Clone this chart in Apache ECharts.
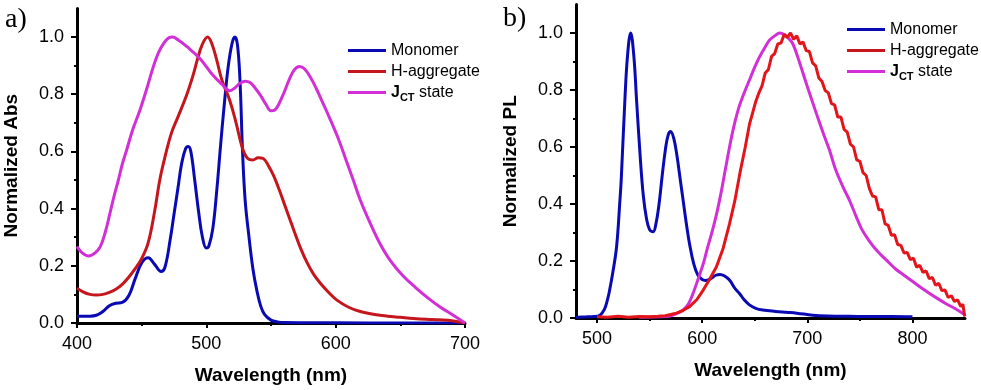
<!DOCTYPE html>
<html>
<head>
<meta charset="utf-8">
<script src="https://cdn.jsdelivr.net/npm/echarts@6/dist/echarts.min.js"></script>
<style>
html,body{margin:0;padding:0;background:#fff;}
#chart{width:981px;height:390px;}
</style>
</head>
<body>
<div id="chart"></div>
<script>
// ---------- DATA ----------
const seriesNames = ['Monomer', 'H-aggregate', 'JCT state'];

const absXTicks = [400, 500, 600, 700];
const absXMinorTicks = [450, 550, 650];
const plXTicks = [500, 600, 700, 800];
const plXMinorTicks = [550, 650, 750];
const yTicks = [0, 0.2, 0.4, 0.6, 0.8, 1.0];
const yMinorTicks = [0.1, 0.3, 0.5, 0.7, 0.9];

// a) absorption [wavelength nm, normalized abs]
const absMonomer = [[400,0.024],[405,0.024],[410,0.024],[415,0.027],[420,0.04],[425,0.06],[430,0.069],[435,0.072],[440,0.095],[445,0.155],[450,0.21],[455,0.228],[460,0.205],[465,0.18],[468,0.195],[472,0.29],[475,0.38],[478,0.47],[481,0.56],[484,0.61],[486,0.617],[488,0.6],[491,0.5],[494,0.39],[497,0.3],[500,0.262],[502,0.27],[505,0.33],[508,0.46],[511,0.62],[514,0.77],[517,0.9],[520,0.98],[522,1.0],[524,0.975],[526,0.85],[528,0.6],[530,0.43],[533,0.3],[536,0.19],[539,0.115],[542,0.06],[545,0.03],[550,0.01],[555,0.004],[560,0.002],[600,0.001],[650,0],[700,0]];
const absHagg = [[400,0.122],[405,0.108],[410,0.1],[415,0.098],[420,0.1],[425,0.107],[430,0.118],[435,0.135],[440,0.16],[445,0.19],[450,0.225],[455,0.28],[460,0.39],[464,0.5],[468,0.58],[473,0.664],[478,0.72],[485,0.8],[490,0.87],[493,0.92],[497,0.975],[501,1.0],[504,0.98],[508,0.92],[512,0.85],[518,0.78],[523,0.7],[528,0.61],[532,0.575],[536,0.57],[540,0.578],[544,0.575],[548,0.55],[552,0.515],[556,0.47],[560,0.42],[564,0.37],[568,0.32],[573,0.26],[578,0.21],[583,0.17],[588,0.14],[595,0.105],[601,0.08],[610,0.055],[619,0.04],[630,0.03],[640,0.024],[650,0.02],[660,0.016],[670,0.013],[680,0.011],[690,0.008],[700,0.0]];
const absJct = [[400,0.267],[404,0.245],[409,0.234],[414,0.245],[418,0.267],[422,0.32],[425.5,0.384],[429,0.45],[432,0.5],[435,0.555],[438.4,0.605],[443,0.675],[448.7,0.745],[454,0.82],[459,0.896],[463,0.945],[467,0.978],[471,0.997],[474,1.0],[478,0.99],[485,0.966],[495,0.925],[505,0.867],[512,0.835],[518,0.812],[522,0.822],[526,0.838],[530,0.845],[534,0.84],[538,0.82],[542,0.795],[546,0.765],[550,0.742],[553,0.745],[556,0.765],[560,0.805],[564,0.85],[568,0.885],[572,0.897],[576,0.888],[581,0.855],[585,0.82],[589,0.78],[595,0.72],[602,0.645],[608,0.57],[613.6,0.5],[619,0.43],[626.6,0.35],[634,0.28],[642,0.22],[652,0.165],[662,0.123],[672,0.085],[681,0.055],[690,0.03],[700,0.0]];

// b) photoluminescence [wavelength nm, normalized PL]
const plMonomer = [[480,0.003],[490,0.004],[497,0.005],[502.8,0.01],[507,0.03],[510,0.065],[512,0.098],[515,0.16],[518.6,0.25],[521.8,0.414],[523,0.484],[526.5,0.765],[529,0.92],[532,1.0],[535,0.92],[537.6,0.765],[541,0.57],[544,0.43],[547,0.35],[550,0.31],[553.4,0.303],[556,0.33],[559,0.4],[562,0.5],[565,0.59],[567.5,0.64],[570,0.654],[573,0.63],[576,0.57],[579,0.49],[582,0.41],[585,0.33],[588,0.26],[592,0.19],[596,0.15],[600,0.135],[603,0.132],[608,0.138],[613,0.15],[617,0.153],[621,0.148],[626,0.133],[631,0.105],[635.7,0.085],[640,0.064],[645,0.046],[651,0.034],[657.6,0.028],[670,0.023],[680,0.02],[690,0.017],[705,0.01],[720,0.007],[740,0.006],[760,0.005],[780,0.005],[800,0.004]];
const plHagg = [[500,0.004],[510,0.003],[520,0.006],[530,0.003],[540,0.005],[550,0.004],[558,0.006],[565,0.008],[570,0.012],[575.6,0.017],[582,0.027],[588,0.04],[595,0.065],[601,0.098],[607,0.135],[613.6,0.18],[620,0.245],[626,0.33],[631,0.41],[636,0.51],[641,0.6],[645,0.68],[648,0.72],[651,0.76],[654,0.79],[657,0.815],[660,0.86],[663,0.872],[666,0.918],[669,0.928],[672,0.962],[675,0.965],[678,0.995],[681,0.985],[684,1.0],[687,0.978],[690,0.99],[693,0.962],[696,0.968],[699,0.938],[702,0.935],[705,0.895],[708,0.885],[711,0.842],[714,0.83],[717,0.798],[720,0.79],[723,0.752],[726,0.748],[729,0.705],[732,0.705],[735,0.662],[738,0.652],[741,0.61],[744,0.6],[747,0.555],[750,0.55],[753,0.51],[756,0.5],[759,0.455],[762,0.428],[765,0.425],[768,0.38],[771,0.38],[774,0.33],[777,0.325],[780,0.29],[783,0.292],[786,0.258],[789,0.255],[792,0.228],[795,0.23],[798,0.205],[801,0.21],[804,0.178],[807,0.185],[810,0.16],[813,0.165],[816,0.138],[819,0.142],[822,0.115],[825,0.122],[828,0.096],[831,0.098],[834,0.072],[837,0.078],[840,0.058],[843,0.064],[846,0.04],[848,0.048],[849.5,0.01],[850,0.005]];
const plJct = [[540,0.003],[560,0.004],[569,0.006],[575,0.014],[582,0.028],[587,0.05],[591.4,0.087],[596,0.135],[601,0.19],[605,0.245],[610,0.31],[614,0.37],[618,0.44],[622,0.52],[626.3,0.605],[630,0.67],[635,0.74],[640,0.79],[645,0.835],[650,0.88],[654.7,0.917],[659,0.945],[664,0.975],[669,0.99],[673.7,1.0],[678,0.995],[682,0.982],[686,0.964],[691,0.915],[696,0.858],[702,0.79],[708.6,0.718],[715,0.65],[721,0.59],[727,0.52],[733.9,0.46],[740,0.414],[746.6,0.355],[752,0.31],[759,0.27],[767,0.233],[775,0.204],[784,0.172],[794,0.145],[805,0.115],[816,0.087],[824,0.068],[832,0.05],[840,0.034],[848,0.016],[850,0.01]];

// ---------- STYLE ----------
const C_BLUE = '#0a0ab4';
const C_RED = '#c4161c';
const C_RED_PL = '#e3141a';
const C_MAG = '#d22fd6';
const FONT = '"Liberation Sans", Arial, sans-serif';

const chart = echarts.init(document.getElementById('chart'), null, {renderer: 'canvas'});

function mainX(grid, min, max, ticks) {
  return {
    type: 'value', gridIndex: grid, min: min, max: max, position: 'bottom',
    axisLine: {show: true, onZero: false, lineStyle: {color: '#000', width: 3}},
    axisTick: {show: true, inside: false, length: 5, customValues: ticks, lineStyle: {color: '#000', width: 2}},
    axisLabel: {show: true, customValues: ticks, margin: 12, color: '#000', fontSize: 18, fontFamily: FONT},
    splitLine: {show: false},
    name: 'Wavelength (nm)', nameLocation: 'middle', nameGap: 43,
    nameTextStyle: {color: '#000', fontSize: 19, fontWeight: 'bold', fontFamily: FONT}
  };
}
function minorX(grid, min, max, ticks) {
  return {
    type: 'value', gridIndex: grid, min: min, max: max, position: 'bottom',
    axisLine: {show: false, onZero: false},
    axisTick: {show: true, inside: false, length: 3, customValues: ticks, lineStyle: {color: '#000', width: 2}},
    axisLabel: {show: false}, splitLine: {show: false}
  };
}
function mainY(grid, name) {
  return {
    type: 'value', gridIndex: grid, min: 0, max: 1.1, position: 'left',
    axisLine: {show: true, onZero: false, lineStyle: {color: '#000', width: 3}},
    axisTick: {show: true, inside: false, length: 6, customValues: yTicks, lineStyle: {color: '#000', width: 2}},
    axisLabel: {show: true, customValues: yTicks, margin: 13, color: '#000', fontSize: 18, fontFamily: FONT,
      formatter: v => v.toFixed(1)},
    splitLine: {show: false},
    name: name, nameLocation: 'middle', nameGap: 56,
    nameTextStyle: {color: '#000', fontSize: 19, fontWeight: 'bold', fontFamily: FONT}
  };
}
function minorY(grid) {
  return {
    type: 'value', gridIndex: grid, min: 0, max: 1.1, position: 'left',
    axisLine: {show: false, onZero: false},
    axisTick: {show: true, inside: false, length: 3, customValues: yMinorTicks, lineStyle: {color: '#000', width: 2}},
    axisLabel: {show: false}, splitLine: {show: false}
  };
}
function line(name, data, color, xi, yi, smooth) {
  return {
    type: 'line', name: name, data: data, xAxisIndex: xi, yAxisIndex: yi,
    showSymbol: false, symbol: 'none', smooth: smooth,
    lineStyle: {color: color, width: 3}, itemStyle: {color: color},
    z: 3
  };
}
const legendRich = {
  j: {fontSize: 16, fontWeight: 'bold', fontFamily: FONT, color: '#000', lineHeight: 21},
  s: {fontSize: 11, fontWeight: 'bold', fontFamily: FONT, color: '#000', lineHeight: 13, verticalAlign: 'bottom'},
  t: {fontSize: 16, fontFamily: FONT, color: '#000', lineHeight: 21}
};
function legend(left, top) {
  return {
    data: seriesNames, orient: 'vertical', left: left, top: top,
    icon: 'rect', itemWidth: 38, itemHeight: 3, itemGap: 0, padding: 0,
    textStyle: {fontSize: 16, fontFamily: FONT, color: '#000', lineHeight: 21, rich: legendRich},
    formatter: n => n === 'JCT state' ? '{j|J}{s|CT}{t| state}' : n
  };
}

const option = {
  animation: false,
  backgroundColor: '#fff',
  grid: [
    {left: 77, top: 8.4, width: 388, height: 314.6},
    {left: 576, top: 4.5, width: 389, height: 313.5}
  ],
  xAxis: [
    mainX(0, 400, 700, absXTicks),
    minorX(0, 400, 700, absXMinorTicks),
    mainX(1, 480, 850, plXTicks),
    minorX(1, 480, 850, plXMinorTicks)
  ],
  yAxis: [
    mainY(0, 'Normalized Abs'),
    minorY(0),
    mainY(1, 'Normalized PL'),
    minorY(1)
  ],
  legend: [legend(348, 40), legend(847, 19)],
  graphic: [
    {type: 'text', left: 5, top: 6, style: {text: 'a)', fontSize: 28, fontFamily: '"Liberation Serif", "Times New Roman", serif', fill: '#000'}},
    {type: 'text', left: 503, top: 5, style: {text: 'b)', fontSize: 28, fontFamily: '"Liberation Serif", "Times New Roman", serif', fill: '#000'}}
  ],
  series: [
    line('Monomer', absMonomer, C_BLUE, 0, 0, 0.4),
    line('H-aggregate', absHagg, C_RED, 0, 0, 0.4),
    line('JCT state', absJct, C_MAG, 0, 0, 0.4),
    line('Monomer', plMonomer, C_BLUE, 2, 2, 0.4),
    line('JCT state', plJct, C_MAG, 2, 2, 0.3),
    line('H-aggregate', plHagg, C_RED_PL, 2, 2, false)
  ]
};
chart.setOption(option);
</script>
</body>
</html>
